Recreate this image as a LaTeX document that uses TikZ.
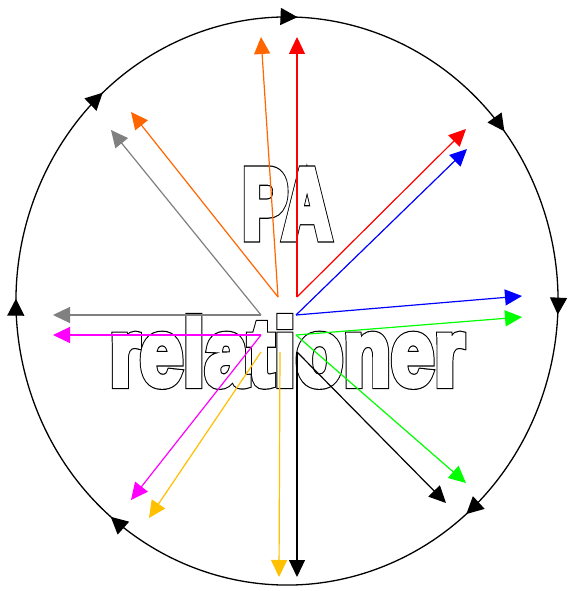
\documentclass[tikz,border=0pt]{standalone}
\usepackage{fontspec}
\setmainfont{Liberation Sans}
\usetikzlibrary{arrows.meta,decorations.markings}
\definecolor{myorange}{RGB}{255,102,0}
\definecolor{mygold}{RGB}{255,192,0}
\definecolor{mygray}{RGB}{128,128,128}
\definecolor{mygreen}{RGB}{0,255,0}
\definecolor{mymagenta}{RGB}{255,0,255}
% heavy outlined word: #1 outer stroke, #2 inner white stroke, #3 text
\newcommand{\heavyword}[3]{%
  \makebox[0pt][l]{\special{pdf:literal direct 1 Tr #1 w}#3\special{pdf:literal direct 0 Tr}}%
  \textcolor{white}{\special{pdf:literal direct 2 Tr #2 w}#3\special{pdf:literal direct 0 Tr}}}
\begin{document}
\begin{tikzpicture}[x=1pt,y=-1pt,
  arr/.style={-{Triangle[length=17pt,width=16pt]}, line width=1.2pt},
  ringtip/.style={decoration={markings,
     mark=at position 0.0672 with {\arrow{Triangle[length=17pt,width=17pt]}},
     mark=at position 0.2075 with {\arrow{Triangle[length=17pt,width=17pt]}},
     mark=at position 0.319 with {\arrow{Triangle[length=17pt,width=17pt]}},
     mark=at position 0.448 with {\arrow{Triangle[length=17pt,width=17pt]}},
     mark=at position 0.672 with {\arrow{Triangle[length=17pt,width=17pt]}},
     mark=at position 0.8125 with {\arrow{Triangle[length=17pt,width=17pt]}},
     mark=at position 0.944 with {\arrow{Triangle[length=17pt,width=17pt]}}},
     postaction={decorate}},
  word/.style={inner sep=0pt, outer sep=0pt}]
\useasboundingbox (0,0) rectangle (567,591);
\fill[white] (0,0) rectangle (567,591);

% outlined words
\node[word] (pa) at (287,204) {\resizebox{89pt}{68pt}{\fontsize{100pt}{100pt}\selectfont\bfseries\heavyword{9.5}{7}{PA}}};
\node[word] (rel) at (287,351.5) {\resizebox{355pt}{68.5pt}{\fontsize{100pt}{100pt}\selectfont\bfseries\heavyword{8}{5.5}{relationer}}};

% ring
\coordinate (ctr) at (287,301);
\draw[line width=1.3pt, ringtip] (ctr) ++({271*cos(-112.5)},{284*sin(-112.5)})
  arc[start angle=-112.5, end angle=247.5, x radius=271, y radius=284];

% origins
\coordinate (oR) at (297,297);
\coordinate (oO) at (278,297);
\coordinate (oG) at (261,315);
\coordinate (oB) at (296,315);
\coordinate (oM) at (261,335);
\coordinate (oN) at (296,335);
\coordinate (oY) at (261,352);
\coordinate (oYv) at (280,352);
\coordinate (oK) at (297,352);

% tips
\coordinate (tRv) at (297,37);
\coordinate (tRd) at (466,129);
\coordinate (tOv) at (261,37);
\coordinate (tOd) at (131,112);
\coordinate (tGd) at (111,130);
\coordinate (tGh) at (53,315);
\coordinate (tBd) at (467,149);
\coordinate (tBh) at (522,296);
\coordinate (tMh) at (53,335);
\coordinate (tMd) at (131,500);
\coordinate (tNh) at (522,317);
\coordinate (tNd) at (466,483);
\coordinate (tYd) at (149,518);
\coordinate (tYv) at (279,577);
\coordinate (tKv) at (297,577);
\coordinate (tKd) at (446,503);

\draw[arr, red] (oR) -- (tRv);
\draw[arr, red] (oR) -- (tRd);
\draw[arr, myorange] (oO) -- (tOv);
\draw[arr, myorange] (oO) -- (tOd);
\draw[arr, mygray] (oG) -- (tGd);
\draw[arr, mygray] (oG) -- (tGh);
\draw[arr, blue] (oB) -- (tBd);
\draw[arr, blue] (oB) -- (tBh);
\draw[arr, mymagenta] (oM) -- (tMh);
\draw[arr, mymagenta] (oM) -- (tMd);
\draw[arr, mygreen] (oN) -- (tNh);
\draw[arr, mygreen] (oN) -- (tNd);
\draw[arr, mygold] (oY) -- (tYd);
\draw[arr, mygold] (oYv) -- (tYv);
\draw[arr, black] (oK) -- (tKv);
\draw[arr, black] (oK) -- (tKd);
\end{tikzpicture}
\end{document}
